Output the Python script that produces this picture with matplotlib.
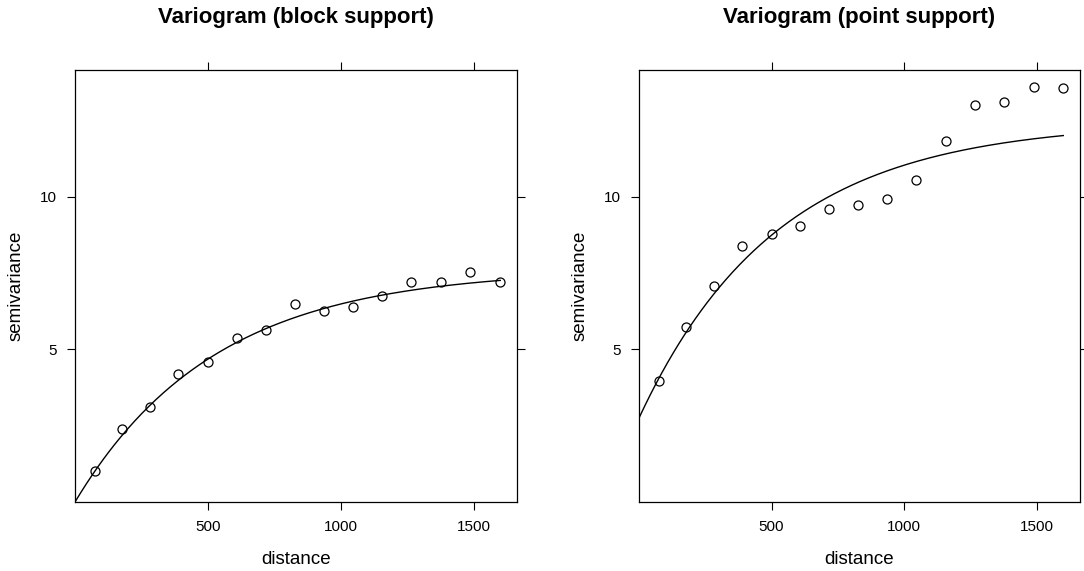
import matplotlib.pyplot as plt
import numpy as np

plt.rcParams['font.family'] = ['Liberation Sans', 'DejaVu Sans']

# sample variogram lags
dist = [75, 178, 283, 388, 500, 608, 718, 826, 935, 1046, 1156, 1266, 1376, 1488, 1598]
gamma_block = [1.01, 2.39, 3.10, 4.18, 4.60, 5.36, 5.65, 6.47, 6.27, 6.40, 6.76, 7.19, 7.22, 7.52, 7.22]
gamma_point = [3.95, 5.72, 7.06, 8.40, 8.79, 9.05, 9.60, 9.74, 9.93, 10.56, 11.83, 13.00, 13.10, 13.60, 13.56]

# fitted exponential models: nugget, partial sill, range
model_block = (0.0, 7.62, 525.0)
model_point = (2.75, 9.7, 520.0)

titles = ['Variogram (block support)', 'Variogram (point support)']


def exp_model(h, nug, psill, rng):
    return nug + psill * (1 - np.exp(-h / rng))


fig = plt.figure(figsize=(10.84, 5.71), dpi=100)
W, H = 1084, 571
boxes = [(75, 70, 517, 502), (639, 70, 1080, 502)]

for (x0, y0, x1, y1), gam, mod, title in zip(boxes, [gamma_block, gamma_point],
                                              [model_block, model_point], titles):
    ax = fig.add_axes([x0 / W, 1 - y1 / H, (x1 - x0) / W, (y1 - y0) / H])
    h = np.linspace(0, 1600, 300)
    ax.plot(h, exp_model(h, *mod), color='black', lw=1.0)
    ax.plot(dist, gam, 'o', mfc='none', mec='black', ms=6.5, mew=0.9)
    ax.set_xlim(0, 1663)
    ax.set_ylim(0, 14.15)
    ax.set_xticks([500, 1000, 1500])
    ax.set_yticks([5, 10])
    ax.tick_params(direction='out', length=6, width=0.8, labelsize=11, pad=7,
                   top=True, right=True, labeltop=False, labelright=False)
    for s in ax.spines.values():
        s.set_linewidth(0.9)
    ax.set_xlabel('distance', fontsize=13.5, labelpad=12)
    ax.set_ylabel('semivariance', fontsize=13.5, labelpad=11)
    fig.text((x0 + x1) / 2 / W, 1 - 18 / H, title, ha='center', va='center',
             fontsize=16, fontweight='bold')

plt.savefig('out.png', dpi=100)
